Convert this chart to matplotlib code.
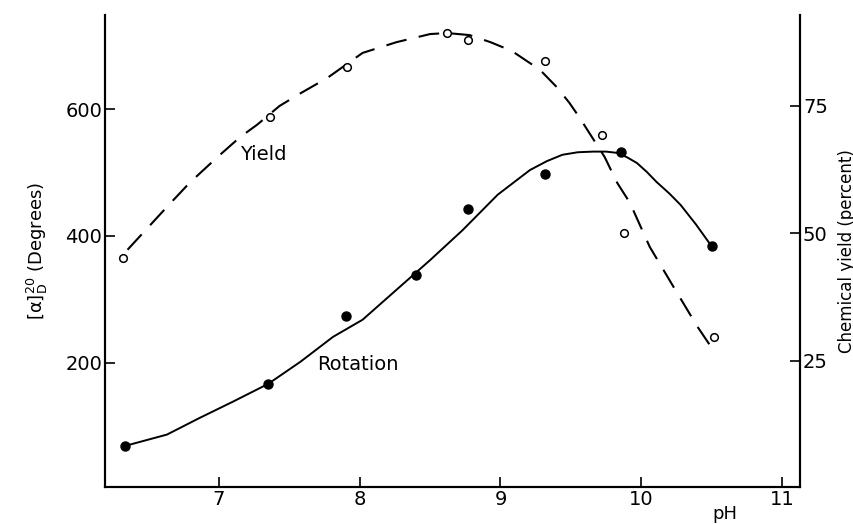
import matplotlib
matplotlib.use("Agg")
import matplotlib.pyplot as plt

plt.rcParams['font.family'] = ['DejaVu Sans']
plt.rcParams['mathtext.fontset'] = 'dejavusans'

# measured points (pH, optical rotation in degrees)
rot_ph = [6.33, 7.35, 7.90, 8.40, 8.77, 9.32, 9.86, 10.50]
rot_deg = [69, 167, 274, 339, 442, 498, 532, 384]

# hand-drawn rotation curve
rot_curve_ph = [6.33, 6.63, 6.86, 7.10, 7.35, 7.58, 7.81, 8.02, 8.26, 8.50,
                8.73, 8.98, 9.21, 9.33, 9.44, 9.55, 9.66, 9.75, 9.83, 9.90,
                9.97, 10.04, 10.11, 10.20, 10.28, 10.39, 10.50]
rot_curve_deg = [69, 87, 113, 139, 167, 202, 241, 268, 315, 362,
                 409, 465, 504, 518, 528, 532, 533, 533, 531, 524,
                 515, 501, 485, 467, 449, 418, 384]

# measured points (pH, chemical yield in percent)
yld_ph = [6.32, 7.36, 7.91, 8.62, 8.77, 9.32, 9.72, 9.88, 10.52]
yld_pct = [45.2, 72.8, 82.6, 89.3, 87.9, 83.8, 69.3, 50.1, 29.7]

# hand-drawn yield curve (dashed)
yld_curve_ph = [6.35, 6.46, 6.63, 6.79, 6.99, 7.15, 7.27, 7.43, 7.58, 7.77,
                8.02, 8.26, 8.50, 8.62, 8.78, 8.93, 9.08, 9.28, 9.40, 9.49,
                9.56, 9.74, 9.83, 9.92, 10.06, 10.23, 10.40, 10.51]
yld_curve_pct = [46.8, 50.1, 55.2, 59.9, 65.0, 68.9, 71.3, 75.0, 77.5, 80.5,
                 85.4, 87.5, 89.1, 89.3, 88.9, 87.5, 85.8, 82.1, 78.7, 75.6,
                 72.8, 65.0, 59.9, 56.0, 47.4, 39.5, 31.7, 27.2]

x_ticks = [7, 8, 9, 10, 11]
left_ticks = [200, 400, 600]
right_ticks = [25, 50, 75]

fig = plt.figure(figsize=(8.54, 5.24), dpi=100)
ax = fig.add_axes([0.123, 0.071, 0.814, 0.900])
ax2 = ax.twinx()

# rotation (left axis)
ax.plot(rot_curve_ph, rot_curve_deg, color='black', lw=1.4)
ax.plot(rot_ph, rot_deg, 'o', color='black', ms=6.5)

# yield (right axis)
ax2.plot(yld_curve_ph, yld_curve_pct, color='black', lw=1.5,
         linestyle=(0, (10, 6)))
ax2.plot(yld_ph, yld_pct, 'o', mfc='white', mec='black', mew=1.1, ms=5.5)

ax.set_xlim(6.19, 11.13)
ax.set_ylim(4.7, 748)
ax2.set_ylim(0.3, 92.8)

ax.set_xticks(x_ticks)
ax.set_xticklabels(['7', '8', '9', '10', '11'])
ax.set_yticks(left_ticks)
ax2.set_yticks(right_ticks)

for a in (ax, ax2):
    a.spines['top'].set_visible(False)
    for s in a.spines.values():
        s.set_linewidth(1.5)
    a.tick_params(direction='in', length=7, width=1.2, labelsize=14, pad=2)

ax.set_ylabel(r'$[\mathrm{\alpha}]_\mathrm{D}^{20}$ (Degrees)', fontsize=13, labelpad=11)
ax2.set_ylabel('Chemical yield (percent)', fontsize=12, labelpad=7)
fig.text(725 / 854, 1 - 514 / 524, 'pH', fontsize=13, ha='center', va='center')

ax2.text(7.15, 65.4, 'Yield', fontsize=14, ha='left', va='center')
ax.text(7.70, 198, 'Rotation', fontsize=14, ha='left', va='center')

fig.savefig('out.png', dpi=100)
